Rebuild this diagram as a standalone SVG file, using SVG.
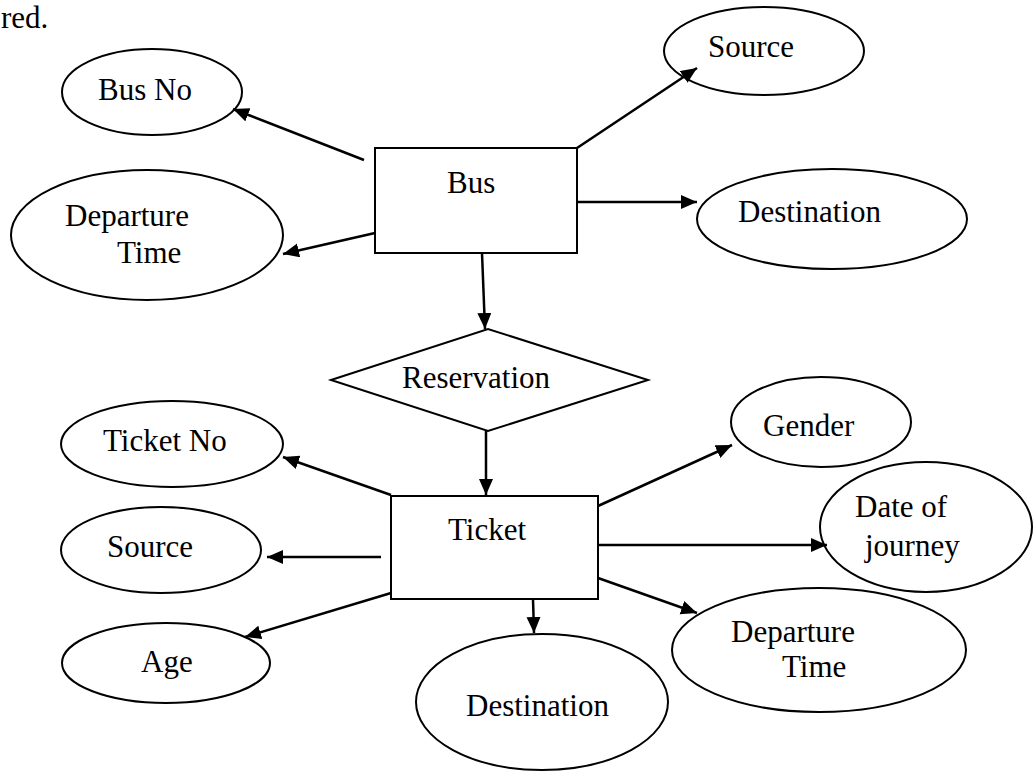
<svg xmlns="http://www.w3.org/2000/svg" width="1033" height="771" viewBox="0 0 1033 771">
<style>
text{font-family:"Liberation Serif","Times New Roman",serif;font-size:31px;fill:#000}
.n{fill:#fff;stroke:#000;stroke-width:2}
.c{stroke:#000;stroke-width:2.5;fill:none;marker-end:url(#ah)}
</style>
<defs>
<marker id="ah" markerUnits="userSpaceOnUse" markerWidth="18" markerHeight="16" refX="16" refY="7" orient="auto">
<path d="M0,0 L16,7 L0,14 z" fill="#000"/>
</marker>
</defs>
<rect width="1033" height="771" fill="#fff"/>
<text x="1" y="28">red.</text>
<g id="bus">
<rect class="n" x="375" y="148" width="202" height="105"/>
<text x="447" y="193">Bus</text>
</g>
<g id="bus-no">
<ellipse class="n" cx="152" cy="92" rx="90" ry="43"/>
<text x="98" y="100">Bus No</text>
</g>
<g id="bus-source">
<ellipse class="n" cx="764" cy="51" rx="100" ry="44"/>
<text x="708" y="57">Source</text>
</g>
<g id="bus-destination">
<ellipse class="n" cx="832" cy="219" rx="135" ry="50"/>
<text x="738" y="222">Destination</text>
</g>
<g id="bus-departure-time">
<ellipse class="n" cx="147" cy="235" rx="136" ry="65"/>
<text x="65" y="226">Departure</text>
<text x="117" y="263">Time</text>
</g>
<g id="reservation">
<polygon class="n" points="331,380 488,329 648,380 488,431"/>
<text x="402" y="388">Reservation</text>
</g>
<g id="ticket">
<rect class="n" x="391" y="496" width="207" height="103"/>
<text x="448" y="540">Ticket</text>
</g>
<g id="ticket-no">
<ellipse class="n" cx="172" cy="444" rx="111" ry="43"/>
<text x="103" y="451">Ticket No</text>
</g>
<g id="ticket-source">
<ellipse class="n" cx="161" cy="550" rx="100" ry="43"/>
<text x="107" y="557">Source</text>
</g>
<g id="age">
<ellipse class="n" cx="166" cy="663" rx="104" ry="40"/>
<text x="141" y="672">Age</text>
</g>
<g id="gender">
<ellipse class="n" cx="821" cy="422" rx="90" ry="45"/>
<text x="763" y="436">Gender</text>
</g>
<g id="date-of-journey">
<ellipse class="n" cx="926" cy="527" rx="106" ry="65"/>
<text x="855" y="517">Date of</text>
<text x="865" y="556">journey</text>
</g>
<g id="ticket-departure-time">
<ellipse class="n" cx="819" cy="650" rx="147" ry="62"/>
<text x="731" y="642">Departure</text>
<text x="782" y="677">Time</text>
</g>
<g id="ticket-destination">
<ellipse class="n" cx="542" cy="702" rx="126" ry="68"/>
<text x="466" y="716">Destination</text>
</g>
<g id="connectors">
<line class="c" x1="364" y1="160" x2="233" y2="109"/>
<line class="c" x1="577" y1="148" x2="697" y2="68"/>
<line class="c" x1="577" y1="202" x2="697" y2="202"/>
<line class="c" x1="375" y1="233" x2="283" y2="254"/>
<line class="c" x1="482" y1="253" x2="485" y2="329"/>
<line class="c" x1="486" y1="431" x2="486" y2="495"/>
<line class="c" x1="391" y1="495" x2="283" y2="457"/>
<line class="c" x1="381" y1="557" x2="267" y2="557"/>
<line class="c" x1="391" y1="593" x2="245" y2="637"/>
<line class="c" x1="598" y1="506" x2="732" y2="445"/>
<line class="c" x1="598" y1="545" x2="827" y2="545"/>
<line class="c" x1="598" y1="578" x2="697" y2="613"/>
<line class="c" x1="533" y1="599" x2="534" y2="633"/>
</g>
</svg>
